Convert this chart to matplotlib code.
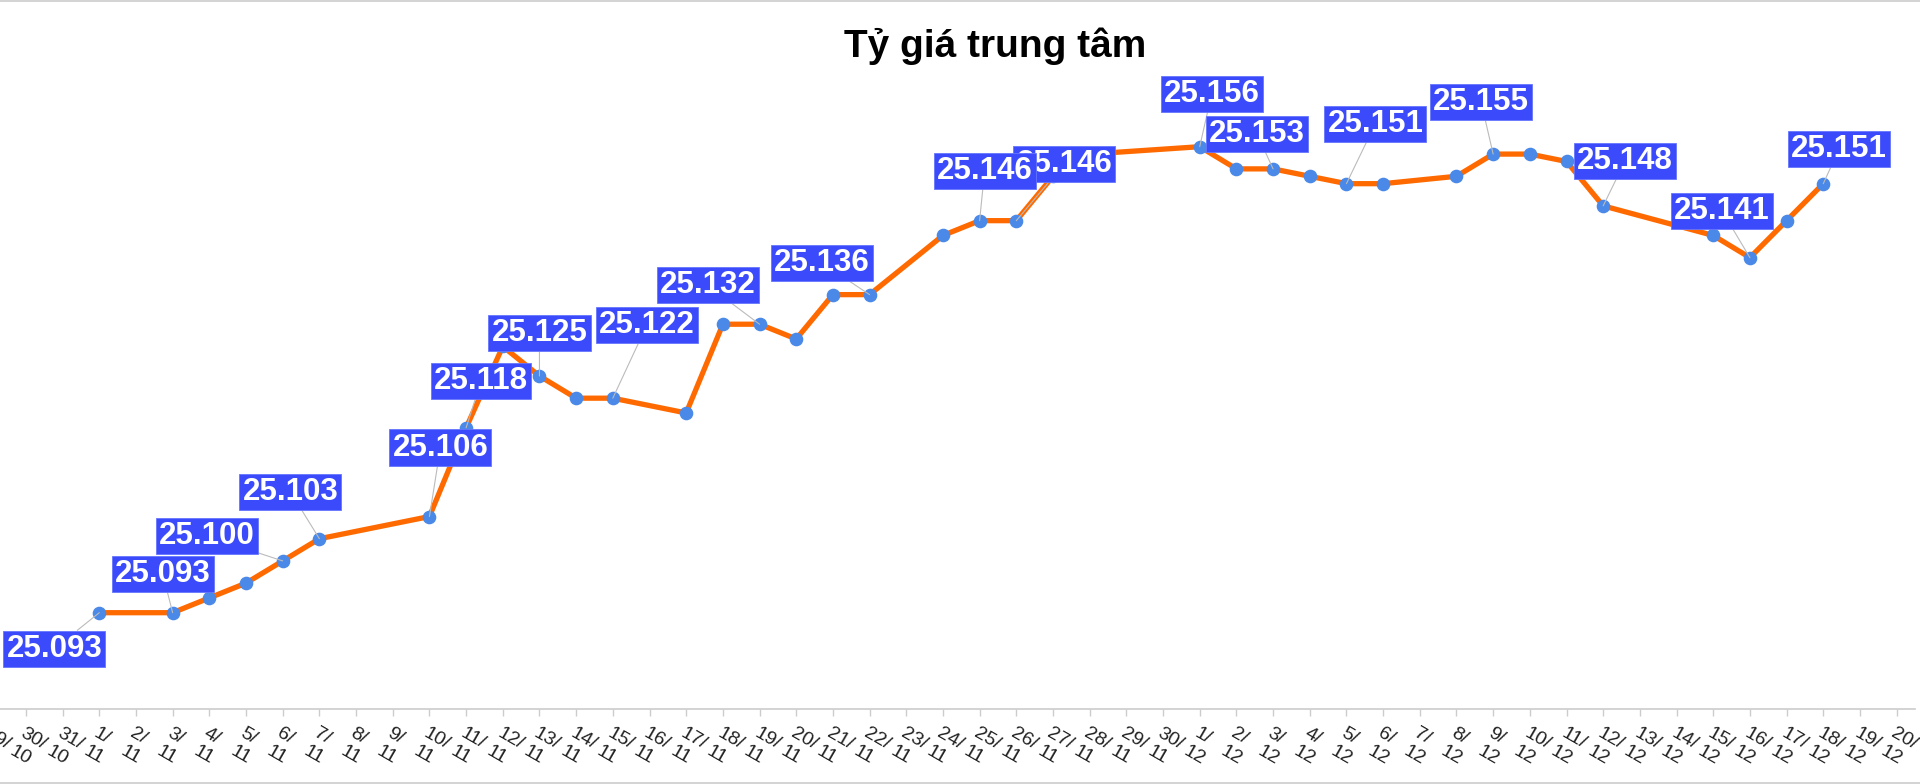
import matplotlib
matplotlib.use('Agg')
import matplotlib.pyplot as plt
from matplotlib.lines import Line2D

plt.rcParams['font.family'] = ['Liberation Sans', 'DejaVu Sans']

# ---------------- data ----------------
title = 'Tỷ giá trung tâm'

categories = [
    '29/10', '30/10', '31/10',
    '1/11', '2/11', '3/11', '4/11', '5/11', '6/11', '7/11', '8/11', '9/11', '10/11',
    '11/11', '12/11', '13/11', '14/11', '15/11', '16/11', '17/11', '18/11', '19/11', '20/11',
    '21/11', '22/11', '23/11', '24/11', '25/11', '26/11', '27/11', '28/11', '29/11', '30/11',
    '1/12', '2/12', '3/12', '4/12', '5/12', '6/12', '7/12', '8/12', '9/12', '10/12',
    '11/12', '12/12', '13/12', '14/12', '15/12', '16/12', '17/12', '18/12', '19/12', '20/12',
]

dates = [
    '1/11', '3/11', '4/11', '5/11', '6/11', '7/11', '10/11', '11/11', '12/11', '13/11',
    '14/11', '15/11', '17/11', '18/11', '19/11', '20/11', '21/11', '22/11', '24/11', '25/11',
    '26/11', '27/11', '28/11', '1/12', '2/12', '3/12', '4/12', '5/12', '6/12', '8/12',
    '9/12', '10/12', '11/12', '12/12', '15/12', '16/12', '17/12', '18/12',
]
rates = [
    25.093, 25.093, 25.095, 25.097, 25.100, 25.103, 25.106, 25.118, 25.129, 25.125,
    25.122, 25.122, 25.120, 25.132, 25.132, 25.130, 25.136, 25.136, 25.144, 25.146,
    25.146, 25.152, 25.155, 25.156, 25.153, 25.153, 25.152, 25.151, 25.151, 25.152,
    25.155, 25.155, 25.154, 25.148, 25.144, 25.141, 25.146, 25.151,
]

labeled_dates = ['1/11', '3/11', '6/11', '7/11', '10/11', '11/11', '13/11', '15/11',
                 '19/11', '22/11', '26/11', '25/11', '1/12', '3/12', '5/12', '9/12',
                 '12/12', '16/12', '18/12']

# ---------------- layout (label box offsets in pixels) ----------------
label_offsets = {
    '1/11': (-45, -36), '3/11': (-10, 39), '6/11': (-76, 25), '7/11': (-29, 47),
    '10/11': (11, 69), '11/11': (15, 47), '13/11': (0, 43), '15/11': (34, 73),
    '19/11': (-52, 39), '22/11': (-48, 32), '25/11': (5, 50), '26/11': (48, 57),
    '1/12': (12, 53), '3/12': (-16, 35), '5/12': (29, 60), '9/12': (-12, 52),
    '12/12': (22, 45), '16/12': (-28, 47), '18/12': (16, 35),
}

LINE_COLOR = '#FF6A00'
MARKER_COLOR = '#4A89E8'
BOX_COLOR = '#3B4BFB'
AXIS_GREY = '#CCCCCC'

W, H, DPI = 1920, 784, 100
fig = plt.figure(figsize=(W / DPI, H / DPI), dpi=DPI)
fig.patch.set_facecolor('white')

# axes geometry in pixels
px_per_cat = 36.68
x_idx3 = 99.3
left_px = x_idx3 - 3.5 * px_per_cat
width_px = len(categories) * px_per_cat
bottom_px = 709.3
top_px = 60.0
ax = fig.add_axes([left_px / W, (H - bottom_px) / H, width_px / W, (bottom_px - top_px) / H])

px_per_unit = 7397.0   # pixels per 1.0 of rate
y_ref_px = 612.7
v_ref = 25.093
ymin = v_ref - (bottom_px - y_ref_px) / px_per_unit
ymax = v_ref + (y_ref_px - top_px) / px_per_unit
ax.set_ylim(ymin, ymax)
ax.set_xlim(-0.5, len(categories) - 0.5)

xs = [categories.index(d) for d in dates]
ax.plot(xs, rates, color=LINE_COLOR, lw=3.8, zorder=2, solid_joinstyle='round',
        solid_capstyle='round')
ax.plot(xs, rates, linestyle='none', marker='o', markersize=8.8,
        markerfacecolor=MARKER_COLOR, markeredgecolor=MARKER_COLOR, zorder=3)

z = 4
for d in labeled_dates:
    v = rates[dates.index(d)]
    xi = categories.index(d)
    dx, dy = label_offsets[d]
    ax.annotate(f'{v:.3f}', xy=(xi, v), xytext=(dx, dy), textcoords='offset pixels',
                ha='center', va='center', fontsize=22.5, fontweight='bold', color='white',
                bbox=dict(boxstyle='square,pad=0.1', facecolor=BOX_COLOR,
                          edgecolor='#6675FF', linewidth=0.6),
                arrowprops=dict(arrowstyle='-', color='#BBBBBB', lw=0.8,
                                shrinkA=0, shrinkB=0),
                zorder=z, annotation_clip=False)
    z += 0.1

# axes styling
for s in ['left', 'right', 'top']:
    ax.spines[s].set_visible(False)
ax.spines['bottom'].set_color(AXIS_GREY)
ax.spines['bottom'].set_linewidth(1.2)
ax.set_yticks([])
ax.set_xticks(range(len(categories)))
ax.set_xticklabels([c.replace('/', '/\n') for c in categories])
ax.tick_params(axis='x', direction='out', length=5, width=1, color=AXIS_GREY,
               pad=6, labelsize=14, labelcolor='#222222')
for lab in ax.get_xticklabels():
    lab.set_rotation(-30)
    lab.set_ha('left')
    lab.set_va('top')
    lab.set_rotation_mode('anchor')
    lab.set_linespacing(1.3)

# title
fig.text(995 / W, 1 - 57 / H, title, ha='center', va='baseline',
         fontsize=28, fontweight='bold', color='black')

# border lines at top and bottom of image
fig.add_artist(Line2D([0, 1], [1 - 0.5 / H, 1 - 0.5 / H], color='#CCCCCC', lw=1.2,
                      transform=fig.transFigure))
fig.add_artist(Line2D([0, 1], [1.5 / H, 1.5 / H], color='#CCCCCC', lw=1.2,
                      transform=fig.transFigure))

fig.savefig('out.png', dpi=DPI, facecolor='white')
